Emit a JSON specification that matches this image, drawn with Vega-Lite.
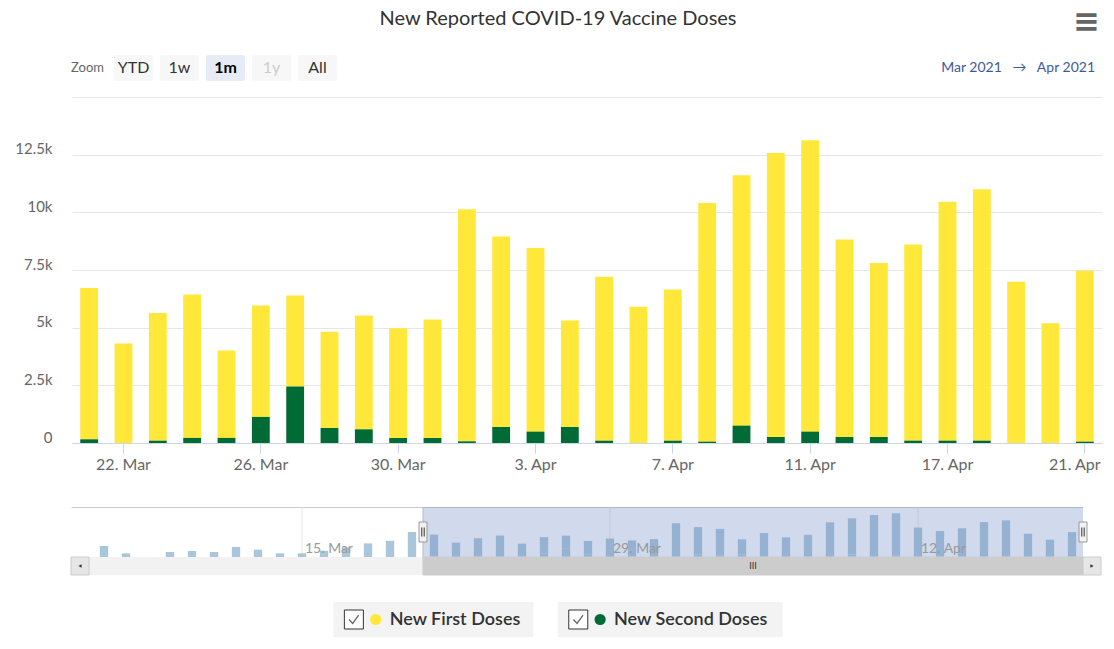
{
  "$schema": "https://vega.github.io/schema/vega-lite/v6.json",
  "padding": {"left": 14, "top": 6, "right": 0, "bottom": 0},
  "background": "white",
  "config": {"font": "Lato", "view": {"stroke": null}},
  "datasets": {
    "doses": [
      {"date": "2021-03-05", "series": "New First Doses", "value": 0},
      {"date": "2021-03-06", "series": "New First Doses", "value": 3330},
      {"date": "2021-03-07", "series": "New First Doses", "value": 1100},
      {"date": "2021-03-08", "series": "New First Doses", "value": 0},
      {"date": "2021-03-09", "series": "New First Doses", "value": 1500},
      {"date": "2021-03-10", "series": "New First Doses", "value": 1800},
      {"date": "2021-03-11", "series": "New First Doses", "value": 1500},
      {"date": "2021-03-12", "series": "New First Doses", "value": 3030},
      {"date": "2021-03-13", "series": "New First Doses", "value": 2200},
      {"date": "2021-03-14", "series": "New First Doses", "value": 1100},
      {"date": "2021-03-15", "series": "New First Doses", "value": 1100},
      {"date": "2021-03-16", "series": "New First Doses", "value": 1900},
      {"date": "2021-03-17", "series": "New First Doses", "value": 2860},
      {"date": "2021-03-18", "series": "New First Doses", "value": 4080},
      {"date": "2021-03-19", "series": "New First Doses", "value": 4850},
      {"date": "2021-03-20", "series": "New First Doses", "value": 7500},
      {"date": "2021-03-21", "series": "New First Doses", "value": 6555},
      {"date": "2021-03-21", "series": "New Second Doses", "value": 160},
      {"date": "2021-03-22", "series": "New First Doses", "value": 4310},
      {"date": "2021-03-22", "series": "New Second Doses", "value": 0},
      {"date": "2021-03-23", "series": "New First Doses", "value": 5540},
      {"date": "2021-03-23", "series": "New Second Doses", "value": 100},
      {"date": "2021-03-24", "series": "New First Doses", "value": 6220},
      {"date": "2021-03-24", "series": "New Second Doses", "value": 220},
      {"date": "2021-03-25", "series": "New First Doses", "value": 3790},
      {"date": "2021-03-25", "series": "New Second Doses", "value": 220},
      {"date": "2021-03-26", "series": "New First Doses", "value": 4830},
      {"date": "2021-03-26", "series": "New Second Doses", "value": 1130},
      {"date": "2021-03-27", "series": "New First Doses", "value": 3950},
      {"date": "2021-03-27", "series": "New Second Doses", "value": 2445},
      {"date": "2021-03-28", "series": "New First Doses", "value": 4170},
      {"date": "2021-03-28", "series": "New Second Doses", "value": 650},
      {"date": "2021-03-29", "series": "New First Doses", "value": 4935},
      {"date": "2021-03-29", "series": "New Second Doses", "value": 593},
      {"date": "2021-03-30", "series": "New First Doses", "value": 4760},
      {"date": "2021-03-30", "series": "New Second Doses", "value": 217},
      {"date": "2021-03-31", "series": "New First Doses", "value": 5137},
      {"date": "2021-03-31", "series": "New Second Doses", "value": 217},
      {"date": "2021-04-01", "series": "New First Doses", "value": 10057},
      {"date": "2021-04-01", "series": "New Second Doses", "value": 72},
      {"date": "2021-04-02", "series": "New First Doses", "value": 8262},
      {"date": "2021-04-02", "series": "New Second Doses", "value": 695},
      {"date": "2021-04-03", "series": "New First Doses", "value": 7958},
      {"date": "2021-04-03", "series": "New Second Doses", "value": 492},
      {"date": "2021-04-04", "series": "New First Doses", "value": 4615},
      {"date": "2021-04-04", "series": "New Second Doses", "value": 695},
      {"date": "2021-04-05", "series": "New First Doses", "value": 7105},
      {"date": "2021-04-05", "series": "New Second Doses", "value": 100},
      {"date": "2021-04-06", "series": "New First Doses", "value": 5904},
      {"date": "2021-04-06", "series": "New Second Doses", "value": 0},
      {"date": "2021-04-07", "series": "New First Doses", "value": 6555},
      {"date": "2021-04-07", "series": "New Second Doses", "value": 100},
      {"date": "2021-04-08", "series": "New First Doses", "value": 10346},
      {"date": "2021-04-08", "series": "New Second Doses", "value": 58},
      {"date": "2021-04-09", "series": "New First Doses", "value": 10853},
      {"date": "2021-04-09", "series": "New Second Doses", "value": 752},
      {"date": "2021-04-10", "series": "New First Doses", "value": 12314},
      {"date": "2021-04-10", "series": "New Second Doses", "value": 260},
      {"date": "2021-04-11", "series": "New First Doses", "value": 12632},
      {"date": "2021-04-11", "series": "New Second Doses", "value": 492},
      {"date": "2021-04-12", "series": "New First Doses", "value": 8567},
      {"date": "2021-04-12", "series": "New Second Doses", "value": 260},
      {"date": "2021-04-13", "series": "New First Doses", "value": 7539},
      {"date": "2021-04-13", "series": "New Second Doses", "value": 260},
      {"date": "2021-04-14", "series": "New First Doses", "value": 8509},
      {"date": "2021-04-14", "series": "New Second Doses", "value": 101},
      {"date": "2021-04-17", "series": "New First Doses", "value": 10361},
      {"date": "2021-04-17", "series": "New Second Doses", "value": 101},
      {"date": "2021-04-18", "series": "New First Doses", "value": 10896},
      {"date": "2021-04-18", "series": "New Second Doses", "value": 101},
      {"date": "2021-04-19", "series": "New First Doses", "value": 6989},
      {"date": "2021-04-19", "series": "New Second Doses", "value": 0},
      {"date": "2021-04-20", "series": "New First Doses", "value": 5195},
      {"date": "2021-04-20", "series": "New Second Doses", "value": 0},
      {"date": "2021-04-21", "series": "New First Doses", "value": 7409},
      {"date": "2021-04-21", "series": "New Second Doses", "value": 58}
    ],
    "buttons": [{"b": "Zoom"}, {"b": "YTD"}, {"b": "1w"}, {"b": "1m"}, {"b": "1y"}, {"b": "All"}],
    "legend": [{"s": "New First Doses"}, {"s": "New Second Doses"}]
  },
  "bounds": "flush",
  "spacing": 16,
  "resolve": {"scale": {"x": "independent", "y": "independent", "color": "independent"}},
  "vconcat": [
    {
      "width": 1024,
      "height": 26,
      "title": {"text": "New Reported COVID-19 Vaccine Doses", "anchor": "middle", "dx": -25, "offset": -23, "fontSize": 20, "fontWeight": "normal", "color": "#333333", "font": "Lato"},
      "resolve": {"scale": {"x": "independent"}},
      "layer": [
        {
          "data": {"name": "buttons"},
          "mark": {"type": "rect", "cornerRadius": 2},
          "encoding": {
            "x": {"field": "b", "type": "nominal", "sort": null, "scale": {"type": "band", "domain": ["Zoom", "YTD", "1w", "1m", "1y", "All"], "range": [-3, 266], "paddingInner": 0.152, "paddingOuter": 0}, "axis": null},
            "fill": {"condition": [{"test": "datum.b === '1m'", "value": "#e6ebf5"}, {"test": "datum.b === 'Zoom'", "value": "transparent"}], "value": "#f7f7f7"}
          }
        },
        {
          "data": {"name": "buttons"},
          "transform": [{"filter": "datum.b !== '1m'"}],
          "mark": {"type": "text", "baseline": "middle"},
          "encoding": {
            "x": {"field": "b", "type": "nominal", "sort": null, "scale": {"type": "band", "domain": ["Zoom", "YTD", "1w", "1m", "1y", "All"], "range": [-3, 266], "paddingInner": 0.152, "paddingOuter": 0}, "axis": null},
            "text": {"field": "b"},
            "size": {"condition": {"test": "datum.b === 'Zoom'", "value": 13}, "value": 16},
            "color": {"condition": [{"test": "datum.b === '1y'", "value": "#cccccc"}, {"test": "datum.b === 'Zoom'", "value": "#666666"}], "value": "#333333"}
          }
        },
        {
          "data": {"name": "buttons"},
          "transform": [{"filter": "datum.b === '1m'"}],
          "mark": {"type": "text", "baseline": "middle", "fontWeight": "bold", "fontSize": 16, "color": "#000000"},
          "encoding": {
            "x": {"field": "b", "type": "nominal", "sort": null, "scale": {"type": "band", "domain": ["Zoom", "YTD", "1w", "1m", "1y", "All"], "range": [-3, 266], "paddingInner": 0.152, "paddingOuter": 0}, "axis": null},
            "text": {"field": "b"}
          }
        },
        {
          "data": {"values": [{"t": "Mar 2021\u00a0\u00a0\u00a0→\u00a0\u00a0\u00a0Apr 2021"}]},
          "mark": {"type": "text", "align": "right", "baseline": "middle", "fontSize": 14, "color": "#3d5a99"},
          "encoding": {
            "x": {"field": "t", "type": "nominal", "scale": {"type": "point", "range": [1024, 1024]}, "axis": null},
            "text": {"field": "t"}
          }
        },
        {
          "data": {"values": [{"t": "≡"}]},
          "mark": {"type": "text", "align": "right", "baseline": "middle", "fontSize": 32, "font": "DejaVu Sans", "fontWeight": "bold", "color": "#666666", "dy": -46, "dx": 5},
          "encoding": {
            "x": {"field": "t", "type": "nominal", "scale": {"type": "point", "range": [1024, 1024]}, "axis": null},
            "text": {"field": "t"}
          }
        }
      ]
    },
    {
      "bounds": "flush",
      "spacing": 64,
      "resolve": {"scale": {"x": "independent", "y": "independent", "color": "independent"}},
      "vconcat": [
        {
          "width": 1024,
          "height": 346,
          "data": {"name": "doses"},
          "transform": [{"filter": "datum.date >= '2021-03-21'"}],
          "mark": {"type": "bar", "width": {"band": 0.52}},
          "encoding": {
            "x": {
              "field": "date", "type": "ordinal",
              "scale": {"type": "band", "paddingInner": 0, "paddingOuter": 0, "range": [1, 1031]},
              "axis": {
                "title": null, "labelAngle": 0, "grid": false,
                "values": ["2021-03-22", "2021-03-26", "2021-03-30", "2021-04-03", "2021-04-07", "2021-04-11", "2021-04-17", "2021-04-21"],
                "labelExpr": "utcFormat(toDate(datum.value), '%-d. %b')",
                "labelOffset": {"condition": {"test": "datum.value === '2021-04-21'", "value": -10}, "value": 0},
                "domainColor": "#ccd6eb", "tickColor": "#ccd6eb", "tickSize": 10,
                "labelFontSize": 16, "labelColor": "#666666", "labelPadding": 3
              }
            },
            "y": {
              "field": "value", "type": "quantitative", "stack": "zero",
              "scale": {"domain": [0, 15000], "nice": false},
              "axis": {
                "title": null, "domain": false, "ticks": false, "grid": true, "gridColor": "#e6e6e6",
                "values": [0, 2500, 5000, 7500, 10000, 12500, 15000],
                "labelExpr": "datum.value >= 15000 ? '' : datum.value === 0 ? '0' : replace(format(datum.value / 1000, '.1f'), '.0', '') + 'k'",
                "labelFontSize": 15, "labelColor": "#666666", "labelPadding": 19, "labelBaseline": "alphabetic", "labelOffset": -1
              }
            },
            "color": {"field": "series", "type": "nominal", "scale": {"domain": ["New First Doses", "New Second Doses"], "range": ["#ffe83a", "#006b34"]}, "legend": null},
            "order": {"field": "series", "sort": "descending"}
          }
        },
        {
          "bounds": "flush",
          "spacing": 0,
          "resolve": {"scale": {"x": "independent", "y": "independent", "color": "independent"}},
          "vconcat": [
            {
              "width": 1012,
              "height": 50,
              "data": {"name": "doses"},
              "encoding": {
                "x": {"field": "date", "type": "ordinal", "scale": {"type": "band", "paddingInner": 0, "paddingOuter": 0}, "axis": {"orient": "top", "labels": false, "ticks": false, "title": null, "domainColor": "#cccccc", "grid": false}}
              },
              "layer": [
                {
                  "transform": [{"filter": "datum.series === 'New First Doses' && indexof(['2021-03-15', '2021-03-29', '2021-04-12'], datum.date) >= 0"}],
                  "mark": {"type": "rule", "color": "#e6e6e6"},
                  "encoding": {}
                },
                {
                  "mark": {"type": "bar", "width": {"band": 0.38}, "color": "#a9c6da"},
                  "encoding": {
                    "y": {"field": "value", "type": "quantitative", "stack": "zero", "scale": {"domain": [0, 15000], "nice": false}, "axis": null},
                    "detail": {"field": "series"}
                  }
                },
                {
                  "transform": [{"filter": "datum.series === 'New First Doses' && datum.date >= '2021-03-21'"}],
                  "mark": {"type": "rect", "color": "#6685c2", "opacity": 0.3}
                },
                {
                  "transform": [
                    {"filter": "datum.series === 'New First Doses' && indexof(['2021-03-15', '2021-03-29', '2021-04-12'], datum.date) >= 0"},
                    {"calculate": "utcFormat(toDate(datum.date), '%-d. %b')", "as": "lab"}
                  ],
                  "mark": {"type": "text", "align": "left", "baseline": "alphabetic", "dx": 3, "dy": 21, "fontSize": 14, "color": "#999999"},
                  "encoding": {"text": {"field": "lab"}}
                },
                {
                  "transform": [{"filter": "datum.series === 'New First Doses' && datum.date === '2021-03-21'"}],
                  "mark": {"type": "rule", "color": "#bbbbbb"},
                  "encoding": {"x": {"field": "date", "type": "ordinal", "bandPosition": 0}}
                },
                {
                  "transform": [{"filter": "datum.series === 'New First Doses' && datum.date === '2021-03-21'"}],
                  "mark": {"type": "point", "shape": "M-0.4,-1H0.4V1H-0.4Z", "size": 400, "filled": true, "fill": "#f2f2f2", "stroke": "#999999", "strokeWidth": 1, "opacity": 1},
                  "encoding": {"x": {"field": "date", "type": "ordinal", "bandPosition": 0}}
                },
                {
                  "transform": [{"filter": "datum.series === 'New First Doses' && datum.date === '2021-03-21'"}],
                  "mark": {"type": "point", "shape": "M-0.12,-0.45V0.45M0.12,-0.45V0.45", "size": 400, "filled": false, "stroke": "#333333", "strokeWidth": 1, "opacity": 1},
                  "encoding": {"x": {"field": "date", "type": "ordinal", "bandPosition": 0}}
                },
                {
                  "transform": [{"filter": "datum.series === 'New First Doses' && datum.date === '2021-04-21'"}],
                  "mark": {"type": "point", "shape": "M-0.4,-1H0.4V1H-0.4Z", "size": 400, "filled": true, "fill": "#f2f2f2", "stroke": "#999999", "strokeWidth": 1, "opacity": 1},
                  "encoding": {"x": {"field": "date", "type": "ordinal", "bandPosition": 1}}
                },
                {
                  "transform": [{"filter": "datum.series === 'New First Doses' && datum.date === '2021-04-21'"}],
                  "mark": {"type": "point", "shape": "M-0.12,-0.45V0.45M0.12,-0.45V0.45", "size": 400, "filled": false, "stroke": "#333333", "strokeWidth": 1, "opacity": 1},
                  "encoding": {"x": {"field": "date", "type": "ordinal", "bandPosition": 1}}
                }
              ]
            },
            {
              "bounds": "flush",
              "spacing": 27,
              "resolve": {"scale": {"x": "independent", "y": "independent", "color": "independent"}},
              "vconcat": [
                {
                  "width": 1030,
                  "height": 18,
                  "view": {"fill": "#f2f2f2", "stroke": null},
                  "data": {"name": "doses"},
                  "transform": [{"filter": "datum.series === 'New First Doses'"}],
                  "encoding": {
                    "x": {"field": "date", "type": "ordinal", "scale": {"type": "band", "paddingInner": 0, "paddingOuter": 0, "range": [0, 1012]}, "axis": null}
                  },
                  "layer": [
                    {
                      "mark": {"type": "rect", "strokeWidth": 1},
                      "encoding": {
                        "fill": {"condition": {"test": "datum.date >= '2021-03-21'", "value": "#cccccc"}, "value": "transparent"},
                        "stroke": {"condition": {"test": "datum.date >= '2021-03-21'", "value": "#cccccc"}, "value": "transparent"}
                      }
                    },
                    {
                      "transform": [{"filter": "datum.date === '2021-04-04'"}],
                      "mark": {"type": "text", "text": "III", "fontSize": 9, "color": "#333333", "baseline": "middle"},
                      "encoding": {"x": {"field": "date", "type": "ordinal", "bandPosition": 1}}
                    },
                    {
                      "transform": [{"filter": "datum.date === '2021-03-05'"}],
                      "mark": {"type": "point", "shape": "square", "size": 324, "filled": true, "fill": "#e6e6e6", "stroke": "#cccccc", "strokeWidth": 1, "opacity": 1},
                      "encoding": {"x": {"field": "date", "type": "ordinal", "bandPosition": 0.41}}
                    },
                    {
                      "transform": [{"filter": "datum.date === '2021-03-05'"}],
                      "mark": {"type": "point", "shape": "triangle-left", "size": 14, "filled": true, "fill": "#333333", "opacity": 1},
                      "encoding": {"x": {"field": "date", "type": "ordinal", "bandPosition": 0.41}}
                    },
                    {
                      "transform": [{"filter": "datum.date === '2021-04-21'"}],
                      "mark": {"type": "point", "shape": "square", "size": 324, "filled": true, "fill": "#e6e6e6", "stroke": "#cccccc", "strokeWidth": 1, "opacity": 1},
                      "encoding": {"x": {"field": "date", "type": "ordinal", "bandPosition": 1.41}}
                    },
                    {
                      "transform": [{"filter": "datum.date === '2021-04-21'"}],
                      "mark": {"type": "point", "shape": "triangle-right", "size": 14, "filled": true, "fill": "#333333", "opacity": 1},
                      "encoding": {"x": {"field": "date", "type": "ordinal", "bandPosition": 1.41}}
                    }
                  ]
                },
                {
                  "width": 1024,
                  "height": 35,
                  "data": {"name": "legend"},
                  "encoding": {
                    "x": {"field": "s", "type": "nominal", "sort": null, "scale": {"type": "band", "domain": ["New First Doses", "New Second Doses"], "range": [263, 711], "paddingInner": 0.1082, "paddingOuter": 0}, "axis": null}
                  },
                  "layer": [
                    {
                      "transform": [{"filter": "datum.s === 'New First Doses'"}],
                      "mark": {"type": "point", "shape": "M-1,-0.175H1V0.175H-1Z", "size": 40000, "filled": true, "fill": "#f3f3f3", "strokeWidth": 0, "opacity": 1},
                      "encoding": {"x": {"field": "s", "type": "nominal", "bandPosition": 0.4706}}
                    },
                    {
                      "transform": [{"filter": "datum.s === 'New Second Doses'"}],
                      "mark": {"type": "point", "shape": "M-1,-0.1556H1V0.1556H-1Z", "size": 50625, "filled": true, "fill": "#f3f3f3", "strokeWidth": 0, "opacity": 1},
                      "encoding": {"x": {"field": "s", "type": "nominal", "bandPosition": 0.4706}}
                    },
                    {
                      "transform": [{"filter": "datum.s === 'New First Doses'"}],
                      "mark": {"type": "point", "shape": "square", "size": 361, "filled": true, "fill": "#ffffff", "stroke": "#333333", "strokeWidth": 1, "opacity": 1},
                      "encoding": {"x": {"field": "s", "type": "nominal", "bandPosition": 0.0941}}
                    },
                    {
                      "transform": [{"filter": "datum.s === 'New First Doses'"}],
                      "mark": {"type": "point", "shape": "M-0.6,0L-0.15,0.5L0.6,-0.55", "size": 256, "filled": false, "stroke": "#666666", "strokeWidth": 1.3, "opacity": 1},
                      "encoding": {"x": {"field": "s", "type": "nominal", "bandPosition": 0.0941}}
                    },
                    {
                      "transform": [{"filter": "datum.s === 'New First Doses'"}],
                      "mark": {"type": "point", "shape": "circle", "size": 125, "filled": true, "fill": "#ffe83a", "strokeWidth": 0, "opacity": 1},
                      "encoding": {"x": {"field": "s", "type": "nominal", "bandPosition": 0.1976}}
                    },
                    {
                      "transform": [{"filter": "datum.s === 'New First Doses'"}],
                      "mark": {"type": "text", "align": "left", "baseline": "middle", "fontSize": 18, "fontWeight": 600, "color": "#333333"},
                      "encoding": {"x": {"field": "s", "type": "nominal", "bandPosition": 0.2635}, "text": {"field": "s"}}
                    },
                    {
                      "transform": [{"filter": "datum.s === 'New Second Doses'"}],
                      "mark": {"type": "point", "shape": "square", "size": 361, "filled": true, "fill": "#ffffff", "stroke": "#333333", "strokeWidth": 1, "opacity": 1},
                      "encoding": {"x": {"field": "s", "type": "nominal", "bandPosition": 0.0353}}
                    },
                    {
                      "transform": [{"filter": "datum.s === 'New Second Doses'"}],
                      "mark": {"type": "point", "shape": "M-0.6,0L-0.15,0.5L0.6,-0.55", "size": 256, "filled": false, "stroke": "#666666", "strokeWidth": 1.3, "opacity": 1},
                      "encoding": {"x": {"field": "s", "type": "nominal", "bandPosition": 0.0353}}
                    },
                    {
                      "transform": [{"filter": "datum.s === 'New Second Doses'"}],
                      "mark": {"type": "point", "shape": "circle", "size": 125, "filled": true, "fill": "#006b34", "strokeWidth": 0, "opacity": 1},
                      "encoding": {"x": {"field": "s", "type": "nominal", "bandPosition": 0.1388}}
                    },
                    {
                      "transform": [{"filter": "datum.s === 'New Second Doses'"}],
                      "mark": {"type": "text", "align": "left", "baseline": "middle", "fontSize": 18, "fontWeight": 600, "color": "#333333"},
                      "encoding": {"x": {"field": "s", "type": "nominal", "bandPosition": 0.2047}, "text": {"field": "s"}}
                    }
                  ]
                }
              ]
            }
          ]
        }
      ]
    }
  ]
}
